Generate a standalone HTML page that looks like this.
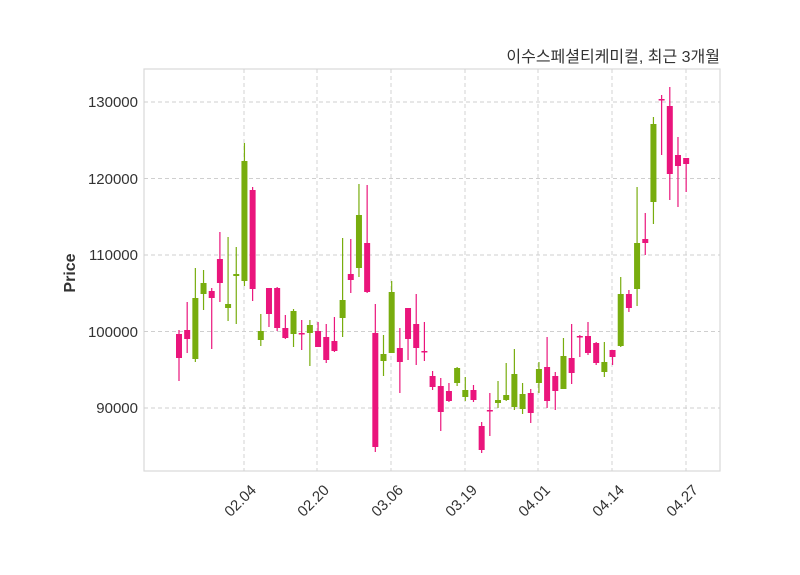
<!DOCTYPE html>
<html><head><meta charset="utf-8"><style>
body{margin:0;background:#fff}
svg{display:block}
text{font-family:"Liberation Sans","Noto Sans CJK KR",sans-serif;fill:#333}
</style></head><body>
<svg width="800" height="575" viewBox="0 0 800 575">
<rect x="144" y="69" width="576" height="402" fill="#fff" stroke="#d9d9d9" stroke-width="1.2"/>
<g stroke="#cfcfcf" stroke-dasharray="4,3" stroke-width="0.9">
<line x1="144" x2="720" y1="102" y2="102"/><line x1="144" x2="720" y1="178.5" y2="178.5"/>
<line x1="144" x2="720" y1="255" y2="255"/><line x1="144" x2="720" y1="331.5" y2="331.5"/>
<line x1="144" x2="720" y1="408" y2="408"/>
<line y1="69" y2="471" x1="244" x2="244"/><line y1="69" y2="471" x1="317" x2="317"/>
<line y1="69" y2="471" x1="391" x2="391"/><line y1="69" y2="471" x1="465" x2="465"/>
<line y1="69" y2="471" x1="538" x2="538"/><line y1="69" y2="471" x1="612" x2="612"/>
<line y1="69" y2="471" x1="686" x2="686"/>
</g>
<g font-size="15" text-anchor="end">
<text x="138" y="107">130000</text><text x="138" y="184">120000</text>
<text x="138" y="260">110000</text><text x="138" y="337">100000</text>
<text x="138" y="413">90000</text>
</g>
<g font-size="15" text-anchor="end">
<text transform="translate(257,491) rotate(-45)">02.04</text>
<text transform="translate(330,491) rotate(-45)">02.20</text>
<text transform="translate(404,491) rotate(-45)">03.06</text>
<text transform="translate(478,491) rotate(-45)">03.19</text>
<text transform="translate(551,491) rotate(-45)">04.01</text>
<text transform="translate(625,491) rotate(-45)">04.14</text>
<text transform="translate(699,491) rotate(-45)">04.27</text>
</g>
<text transform="translate(75,273) rotate(-90)" font-size="16" font-weight="bold" text-anchor="middle">Price</text>
<text x="720" y="62" font-size="16" text-anchor="end">이수스페셜티케미컬, 최근 3개월</text>
<g id="c"></g>
</svg>
<script>
var d=[
['p',334,358,330,381],['p',330,339,302,353],['g',298,359,268,362],['g',283,294,270,310],
['p',291,298,288,349],['p',259,283,232,302],['g',304,308,237,321],['g',274,276,247,324],
['g',161,281,143,286],['p',190,289,187,301],['g',331,340,314,346],['p',288,314,288,327],
['p',288,328,287,331],['p',328,338,315,339],['g',311,334,309,347],['p',333,334,320,350],
['g',325,333,320,366],['p',331,347,322,347],['p',337,360,324,363],['p',341,351,317,352],
['g',300,318,238,337],['p',274,280,239,293],['g',215,268,184,277],['p',243,292,185,293],
['p',333,447,304,452],['g',354,361,335,376],['g',292,353,281,353],['p',348,362,328,393],
['p',308,339,308,360],['p',324,348,294,365],['p',351,352,322,361],['p',376,387,371,390],
['p',386,412,378,431],['p',391,401,383,402],['g',368,383,367,386],['g',390,397,377,401],
['p',390,400,385,402],['p',426,450,422,453],['p',410,411,393,436],['g',400,403,381,408],
['g',395,400,363,401],['g',374,407,349,410],['g',394,409,383,414],['p',393,413,389,423],
['g',369,383,362,393],['p',367,401,337,408],['p',376,391,372,410],['g',356,389,338,389],
['p',358,373,324,384],['p',336,337,335,357],['p',336,353,322,355],['p',343,363,342,365],
['g',362,372,342,377],['p',350,357,350,365],['g',294,346,277,347],['p',294,308,290,312],
['g',243,289,187,306],['p',239,243,213,255],['g',124,202,117,224],['p',99,100,95,155],
['p',106,174,87,200],['p',155,166,137,207],['p',158,164,158,192]];
var s='',C={p:'#ea157c',g:'#78ad0e'};
d.forEach(function(c,i){var x=179+i*8.18,col=C[c[0]];
s+='<line x1="'+x+'" x2="'+x+'" y1="'+c[3]+'" y2="'+c[4]+'" stroke="'+col+'" stroke-width="1.2"/>';
var h=Math.max(c[2]-c[1],1.5);
s+='<rect x="'+(x-3)+'" y="'+c[1]+'" width="6" height="'+h+'" fill="'+col+'"/>';});
document.getElementById('c').innerHTML=s;
</script>
</body></html>
